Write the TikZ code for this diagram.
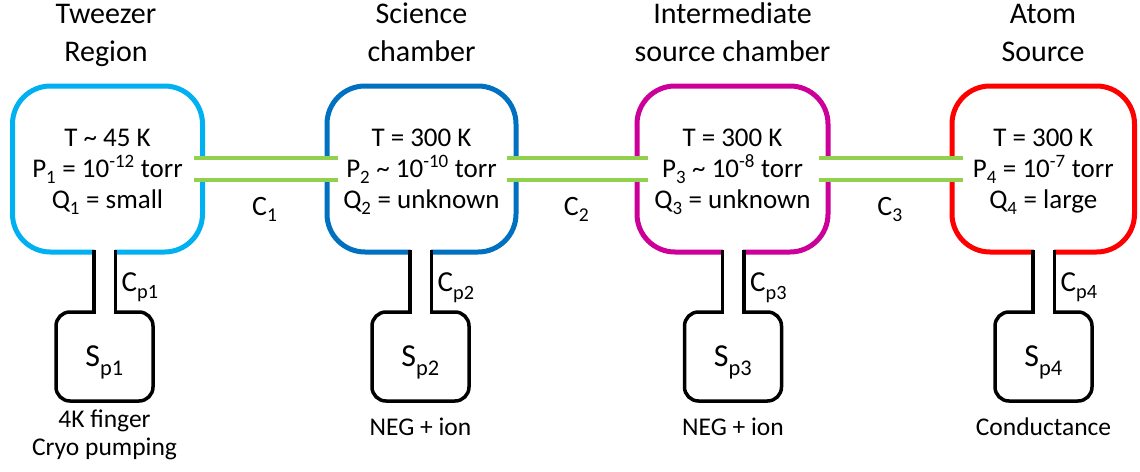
\documentclass[tikz,border=0pt]{standalone}
\usepackage{fontspec}
\setmainfont{Carlito}
\newcommand\dn[1]{\raisebox{-0.1em}{\textsubscript{#1}}}
\definecolor{cone}{RGB}{0,176,240}
\definecolor{ctwo}{RGB}{0,112,192}
\definecolor{cthree}{RGB}{204,0,153}
\definecolor{cfour}{RGB}{255,0,0}
\definecolor{cgreen}{RGB}{146,208,80}
\tikzset{
  chamber/.style={draw, line width=5pt, rounded corners=38pt, minimum height=166pt, outer sep=0pt, inner sep=0pt},
  boxtext/.style={anchor=base, align=center, inner sep=0pt, font=\fontsize{27}{31}\selectfont},
  titletext/.style={anchor=base, align=center, inner sep=0pt, font=\fontsize{30}{38.5}\selectfont},
  pumpbox/.style={draw, line width=3.5pt, rounded corners=14pt, minimum width=97pt, minimum height=89pt, outer sep=0pt, inner sep=0pt},
  conduct/.style={cgreen, line width=4pt},
  pipe/.style={line width=3.5pt, line cap=rect},
  clabel/.style={anchor=base, inner sep=0pt, font=\fontsize{28}{30}\selectfont},
  cplabel/.style={anchor=base west, inner sep=0pt, font=\fontsize{29}{32}\selectfont},
  slabel/.style={anchor=base, inner sep=0pt, font=\fontsize{32}{36}\selectfont},
  pumptext/.style={anchor=base, align=center, inner sep=0pt, font=\fontsize{25.5}{28.5}\selectfont}
}
\begin{document}
\begin{tikzpicture}[x=1pt,y=1pt]
\useasboundingbox (0,0) rectangle (1140,-471);
% titles (base = last line)
\node[titletext] (h1) at (106,-61.5) {Tweezer\\Region};
\node[titletext] (h2) at (421.5,-61.5) {Science\\chamber};
\node[titletext] (h3) at (732.5,-61.5) {Intermediate\\source chamber};
\node[titletext] (h4) at (1043,-61.5) {Atom\\Source};
% chambers
\node[chamber, draw=cone, minimum width=190pt] (ch1) at (107.5,-169) {};
\node[chamber, draw=ctwo, minimum width=189pt] (ch2) at (421.5,-169) {};
\node[chamber, draw=cthree, minimum width=191pt] (ch3) at (732.5,-169) {};
\node[chamber, draw=cfour, minimum width=182.5pt] (ch4) at (1043.25,-169) {};
% chamber texts (base = last line)
\node[boxtext] (t1) at (107.5,-208) {T \textasciitilde{} 45 K\\P\dn{1} = 10\textsuperscript{-12} torr\\Q\dn{1} = small};
\node[boxtext] (t2) at (421.5,-208) {T = 300 K\\P\dn{2} \textasciitilde{} 10\textsuperscript{-10} torr\\Q\dn{2} = unknown};
\node[boxtext] (t3) at (732.5,-208) {T = 300 K\\P\dn{3} \textasciitilde{} 10\textsuperscript{-8} torr\\Q\dn{3} = unknown};
\node[boxtext] (t4) at (1043.25,-208) {T = 300 K\\P\dn{4} = 10\textsuperscript{-7} torr\\Q\dn{4} = large};
% conductances between chambers
\foreach \a/\b/\n in {ch1/ch2/1, ch2/ch3/2, ch3/ch4/3}{
  \fill[white] ([xshift=-5pt,yshift=-9pt]\a.east) rectangle ([xshift=5pt,yshift=9pt]\b.west);
  \draw[conduct] ([xshift=-9pt,yshift=11pt]\a.east) -- ([xshift=11pt,yshift=11pt]\b.west);
  \draw[conduct] ([xshift=-9pt,yshift=-11pt]\a.east) -- ([xshift=11pt,yshift=-11pt]\b.west);
  \path (\a.east) -- (\b.west) coordinate[pos=0.5] (m\n);
  \node[clabel] (c\n) at ([yshift=-46pt]m\n) {C\dn{\n}};
}
% pumps
\node[pumpbox] (p1) at (104.5,-356.5) {};
\node[pumpbox] (p2) at (420.5,-356.5) {};
\node[pumpbox] (p3) at (733,-356.5) {};
\node[pumpbox] (p4) at (1043.5,-356.5) {};
\foreach \n in {1,2,3,4}{
  \coordinate (top\n) at (p\n.north |- ch\n.south);
  \fill[white] ([xshift=-10pt,yshift=-2.5pt]p\n.north) rectangle ([xshift=10pt,yshift=4pt]top\n);
  \draw[pipe] ([xshift=-10.75pt]top\n) -- ([xshift=-10.75pt]p\n.north);
  \draw[pipe] ([xshift=10.75pt]top\n) -- ([xshift=10.75pt]p\n.north);
  \node[cplabel] (cp\n) at ([xshift=17pt,yshift=-39.5pt]top\n) {C\dn{p\n}};
  \node[slabel] (s\n) at ([yshift=-9.5pt]p\n.center) {S\dn{p\n}};
}
% pump descriptions
\node[pumptext] (d1) at (104.5,-455.5) {4K finger\\Cryo pumping};
\node[pumptext] (d2) at (420.5,-435) {NEG + ion};
\node[pumptext] (d3) at (733,-435) {NEG + ion};
\node[pumptext] (d4) at (1043.5,-435) {Conductance};
\end{tikzpicture}
\end{document}
